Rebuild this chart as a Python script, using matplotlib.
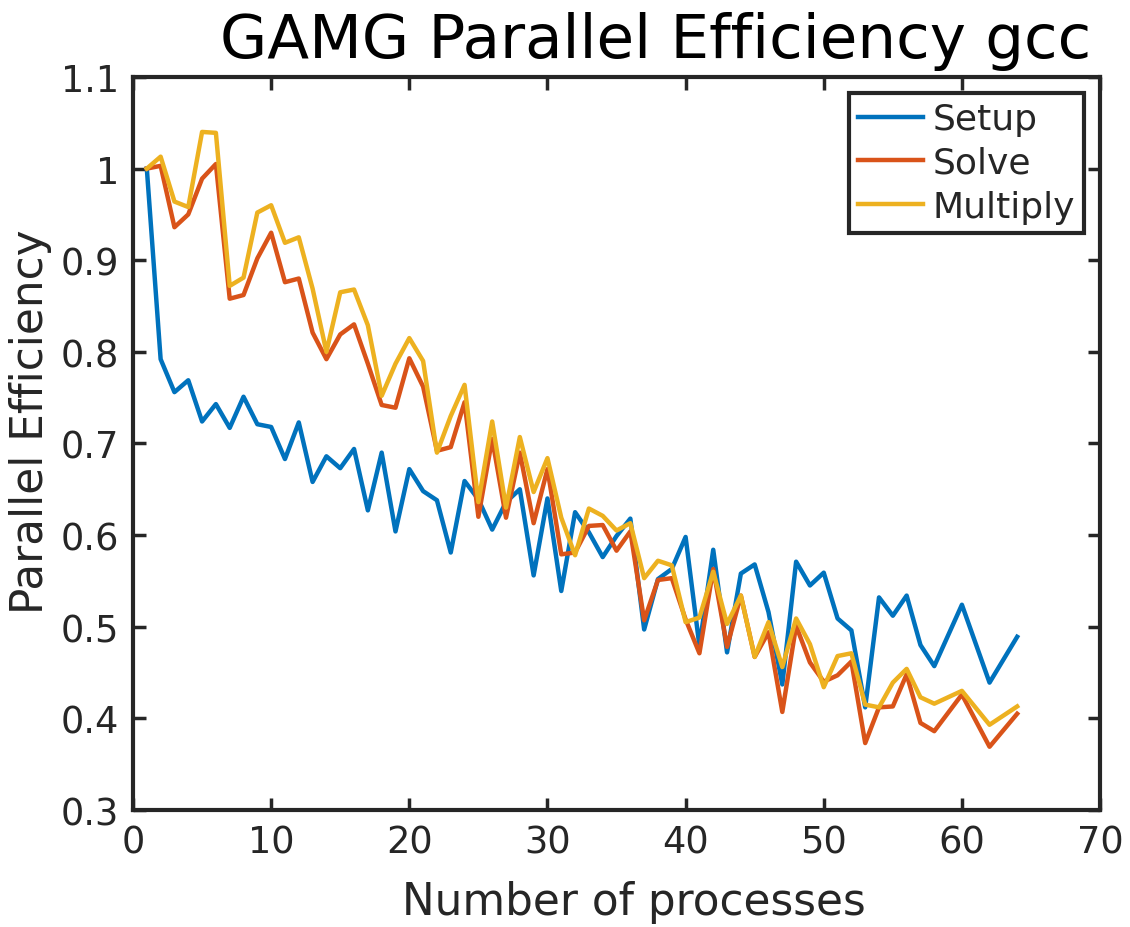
import matplotlib
matplotlib.use("Agg")
import matplotlib.pyplot as plt

procs = list(range(1, 59)) + [60, 62, 64]

setup = [1.0, 0.792, 0.756, 0.769, 0.724, 0.743, 0.717, 0.751, 0.721, 0.718,
         0.683, 0.723, 0.658, 0.686, 0.673, 0.694, 0.627, 0.690, 0.604, 0.672,
         0.648, 0.638, 0.581, 0.659, 0.639, 0.606, 0.636, 0.650, 0.556, 0.640,
         0.539, 0.625, 0.603, 0.576, 0.599, 0.618, 0.497, 0.552, 0.563, 0.598,
         0.479, 0.584, 0.472, 0.558, 0.568, 0.516, 0.437, 0.571, 0.545, 0.559,
         0.509, 0.496, 0.412, 0.532, 0.512, 0.534, 0.480, 0.457,
         0.524, 0.439, 0.489]

solve = [1.0, 1.003, 0.936, 0.950, 0.989, 1.005, 0.858, 0.862, 0.902, 0.930,
         0.876, 0.880, 0.821, 0.792, 0.819, 0.830, 0.787, 0.742, 0.739, 0.793,
         0.762, 0.692, 0.696, 0.745, 0.620, 0.705, 0.619, 0.690, 0.613, 0.672,
         0.579, 0.581, 0.610, 0.611, 0.583, 0.604, 0.507, 0.551, 0.553, 0.508,
         0.471, 0.563, 0.478, 0.534, 0.467, 0.494, 0.407, 0.501, 0.461, 0.440,
         0.447, 0.462, 0.373, 0.412, 0.413, 0.448, 0.395, 0.386,
         0.426, 0.369, 0.405]

multiply = [1.0, 1.013, 0.964, 0.958, 1.040, 1.039, 0.872, 0.881, 0.952, 0.960,
            0.919, 0.925, 0.869, 0.800, 0.865, 0.868, 0.829, 0.752, 0.787, 0.815,
            0.790, 0.690, 0.730, 0.764, 0.636, 0.724, 0.630, 0.707, 0.647, 0.684,
            0.619, 0.578, 0.629, 0.621, 0.605, 0.613, 0.553, 0.572, 0.567, 0.505,
            0.510, 0.560, 0.503, 0.534, 0.467, 0.505, 0.456, 0.509, 0.481, 0.434,
            0.468, 0.471, 0.415, 0.412, 0.439, 0.454, 0.423, 0.416,
            0.430, 0.393, 0.413]

labels = ["Setup", "Solve", "Multiply"]
colors = ["#0072BD", "#D95319", "#EDB120"]
xticks = [0, 10, 20, 30, 40, 50, 60, 70]
yticks = [0.3, 0.4, 0.5, 0.6, 0.7, 0.8, 0.9, 1.0, 1.1]
yticklabels = ["0.3", "0.4", "0.5", "0.6", "0.7", "0.8", "0.9", "1", "1.1"]

plt.rcParams['font.family'] = ['DejaVu Sans']
fig = plt.figure(figsize=(11.3, 9.28), dpi=100)
ax = fig.add_axes([0.1177, 0.1261, 0.8558, 0.7899])

for ser, lab, col in zip([setup, solve, multiply], labels, colors):
    ax.plot(procs, ser, color=col, lw=3.2, label=lab)

ax.set_xlim(0, 70)
ax.set_ylim(0.3, 1.1)
ax.set_xticks(xticks)
ax.set_yticks(yticks)
ax.set_yticklabels(yticklabels)
dark = "#262626"
for s in ax.spines.values():
    s.set_linewidth(3)
    s.set_color(dark)
ax.tick_params(direction="in", length=9, width=2.5, colors=dark, labelsize=26.5,
               top=True, right=True, pad=10)
ax.set_xlabel("Number of processes", fontsize=31.5, color=dark, labelpad=14, x=0.518)
ax.set_ylabel("Parallel Efficiency", fontsize=31.5, color=dark, labelpad=6, y=0.531)
fig.text(0.58, 0.955, "GAMG Parallel Efficiency gcc", fontsize=44, ha="center",
         va="center", color="black")

leg = ax.legend(loc="upper right", fontsize=26, frameon=True, fancybox=False,
                framealpha=1, handlelength=1.8, handletextpad=0.25, borderpad=0.25,
                labelspacing=0.27, borderaxespad=0.45)
leg.get_frame().set_edgecolor(dark)
leg.get_frame().set_linewidth(3)
for t in leg.get_texts():
    t.set_color(dark)

fig.savefig("out.png", dpi=100)
